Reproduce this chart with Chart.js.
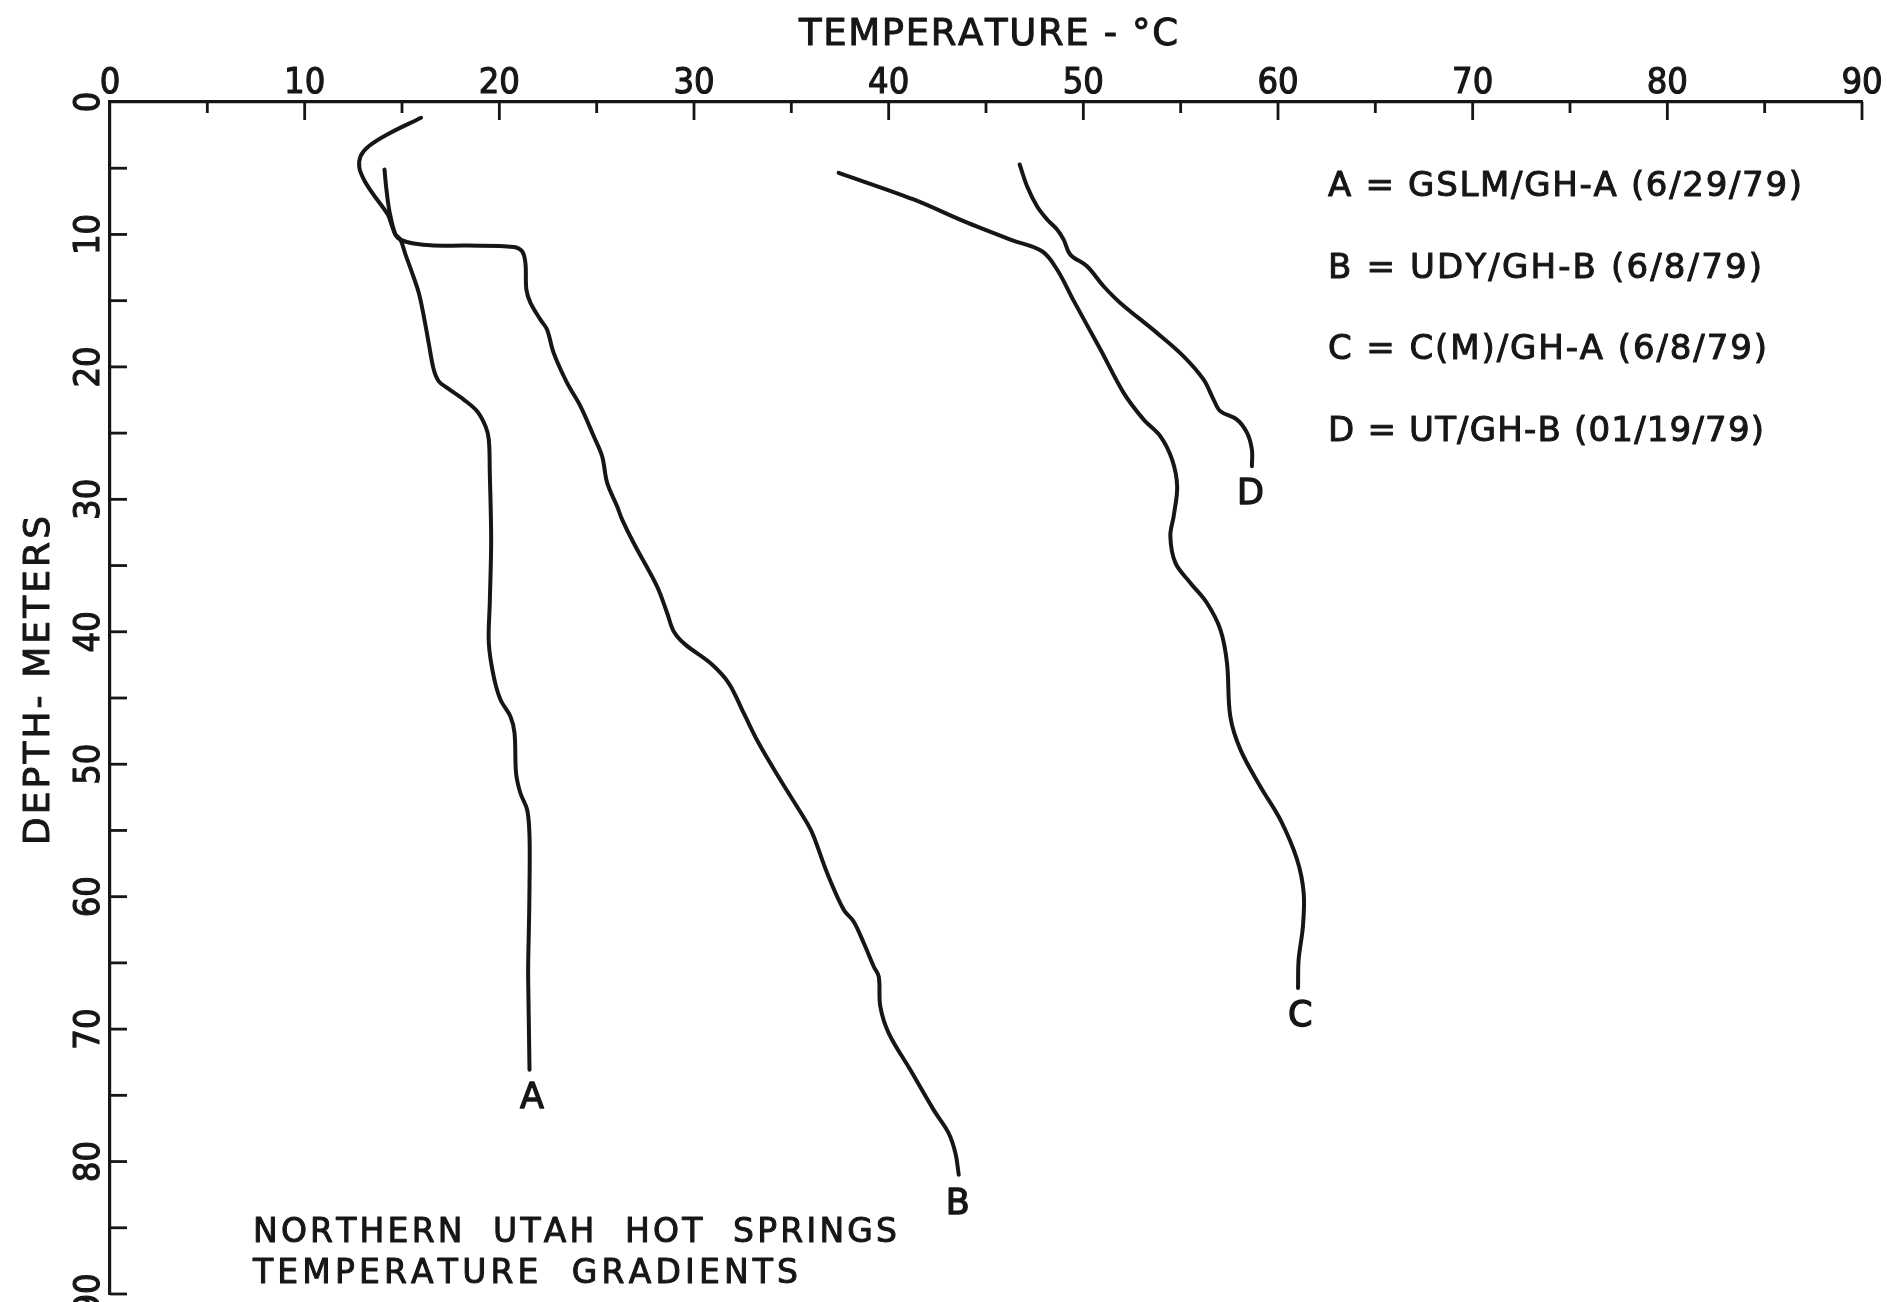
<!DOCTYPE html>
<html>
<head>
<meta charset="utf-8">
<script src="https://cdn.jsdelivr.net/npm/chart.js@4.4.1/dist/chart.umd.min.js"></script>
<style>
html,body{margin:0;padding:0;background:#ffffff;overflow:hidden}
#wrap{width:1887px;height:1302px;position:relative;background:#ffffff}
</style>
</head>
<body>
<div id="wrap"><canvas id="c"></canvas></div>
<script>
// ---- tick labels ----
const tempTicks  = [0, 10, 20, 30, 40, 50, 60, 70, 80, 90];
const depthTicks = [0, 10, 20, 30, 40, 50, 60, 70, 80, 90];

// ---- series names ----
const seriesKeys  = ['A', 'B', 'C', 'D'];
const seriesNames = [
  'A = GSLM/GH-A (6/29/79)',
  'B = UDY/GH-B (6/8/79)',
  'C = C(M)/GH-A (6/8/79)',
  'D = UT/GH-B (01/19/79)'
];

// ---- series values: temperature (deg C) and depth (m) ----
const tempA  = [15.98, 14.24, 13.29, 12.87, 12.81, 13.04, 13.47, 14.27, 14.49, 14.66, 14.92, 15.18, 15.52, 15.86, 16.12, 16.37, 16.63, 16.89, 17.32, 18.17, 18.86, 19.29, 19.46, 19.51, 19.58, 19.51, 19.46, 19.71, 20.06, 20.57, 20.78, 20.86, 21.08, 21.43, 21.55, 21.55, 21.52, 21.48, 21.50, 21.55];
const depthA = [1.19, 2.45, 3.34, 4.09, 4.97, 5.85, 6.86, 8.50, 9.38, 10.00, 10.39, 11.52, 12.90, 14.41, 16.18, 18.19, 20.20, 21.09, 21.59, 22.47, 23.35, 24.49, 25.49, 28.00, 33.04, 37.80, 40.85, 43.37, 45.13, 46.40, 47.64, 50.67, 52.17, 53.44, 55.45, 59.23, 62.25, 65.50, 68.00, 73.07];

const tempB  = [14.10, 14.20, 14.37, 14.66, 14.92, 15.60, 16.63, 18.35, 20.74, 21.17, 21.34, 21.39, 21.60, 22.11, 22.45, 22.79, 23.48, 24.17, 24.85, 25.28, 25.54, 26.05, 26.31, 26.90, 28.10, 28.62, 28.96, 29.56, 30.84, 31.78, 32.55, 33.32, 34.44, 35.81, 36.15, 36.84, 37.69, 38.20, 38.72, 39.23, 39.49, 39.57, 40.00, 41.11, 42.31, 43.08, 43.43, 43.60];
const depthB = [5.10, 6.60, 8.37, 10.00, 10.39, 10.69, 10.84, 10.84, 10.94, 11.27, 12.15, 14.16, 15.17, 16.43, 17.18, 18.94, 21.21, 22.98, 25.24, 26.75, 28.76, 30.53, 31.53, 33.30, 36.57, 38.58, 39.97, 40.97, 42.36, 43.87, 46.13, 48.40, 51.19, 54.44, 55.45, 58.22, 60.99, 61.87, 63.50, 65.27, 66.03, 68.29, 70.30, 73.07, 76.10, 77.85, 79.37, 81.00];

const tempC  = [37.43, 41.28, 43.85, 46.25, 47.88, 48.65, 49.50, 50.88, 52.07, 53.10, 53.96, 54.56, 54.82, 54.65, 54.47, 54.73, 55.50, 56.35, 57.04, 57.38, 57.55, 58.07, 59.09, 60.12, 60.98, 61.32, 61.28, 61.06, 61.03];
const depthC = [5.35, 7.36, 9.00, 10.39, 11.27, 12.65, 15.00, 18.69, 21.96, 23.98, 25.24, 27.00, 29.02, 31.20, 32.79, 34.80, 36.31, 37.83, 39.84, 42.36, 46.39, 48.90, 51.68, 54.19, 57.21, 59.73, 62.25, 64.76, 66.90];

const tempD  = [46.73, 47.11, 47.62, 48.14, 48.65, 48.99, 49.33, 50.19, 51.04, 51.90, 53.78, 55.15, 56.18, 56.69, 57.04, 57.89, 58.41, 58.66, 58.66];
const depthD = [4.72, 6.36, 7.87, 8.87, 9.63, 10.39, 11.52, 12.40, 13.91, 15.17, 17.43, 19.20, 20.96, 22.47, 23.35, 23.98, 24.99, 26.25, 27.50];

// ---- styling / layout (kept apart from the data) ----
const INK  = '#161616';
const FONT = "'DejaVu Sans', 'Noto Sans', sans-serif";
const TICKFONT = "'Liberation Sans Narrow', 'DejaVu Sans Condensed', 'Liberation Sans', sans-serif";
const CAP  = 0.729; // cap-height ratio of DejaVu Sans

const toPoints = (t, d) => t.map((v, i) => ({ x: v, y: d[i] }));
const seriesData = [toPoints(tempA, depthA), toPoints(tempB, depthB), toPoints(tempC, depthC), toPoints(tempD, depthD)];

// label anchors in data units (temperature, depth)
const curveLabelAt = [ {t: 21.68, d: 74.96}, {t: 43.55, d: 83.0}, {t: 61.14, d: 68.8}, {t: 58.58, d: 29.4} ];

// free text on the sheet (pixel layout)
const sheetText = {
  xTitle: { text: 'TEMPERATURE - °C', size: 37, x0: 799, x1: 1178, cy: 32 },
  yTitle: { text: 'DEPTH- METERS', size: 36, cx: 36, y0: 845, y1: 516 },
  legend: { x0: 1328, size: 34, cy: [184, 265.5, 347, 428.5], x1: [1802, 1762, 1767, 1764] },
  note:   [ { text: 'NORTHERN  UTAH  HOT  SPRINGS', size: 33, x0: 253, x1: 897, cy: 1230 },
            { text: 'TEMPERATURE  GRADIENTS',       size: 33, x0: 253, x1: 798, cy: 1271 } ],
  letterSize: 35
};

function spacedText(ctx, text, x0, x1, cy, size) {
  ctx.font = size + 'px ' + FONT;
  ctx.textAlign = 'left';
  ctx.textBaseline = 'alphabetic';
  const chars = Array.from(text);
  const w = chars.map(c => ctx.measureText(c).width);
  const natural = w.reduce((a, b) => a + b, 0);
  const gap = chars.length > 1 ? ((x1 - x0) - natural) / (chars.length - 1) : 0;
  const base = cy + CAP * size / 2;
  let x = x0;
  chars.forEach((c, i) => {
    if (c !== ' ') { ctx.fillText(c, x, base); ctx.strokeText(c, x, base); }
    x += w[i] + gap;
  });
}

const sheetPlugin = {
  id: 'sheet',
  afterDraw(chart) {
    const ctx = chart.ctx, xs = chart.scales.x, ys = chart.scales.y, a = chart.chartArea;
    ctx.save();
    ctx.strokeStyle = INK; ctx.fillStyle = INK;
    // inward tick marks every 5 units
    ctx.lineWidth = 2.8; ctx.lineCap = 'butt';
    for (let v = 5; v <= 90; v += 5) {
      const px = xs.getPixelForValue(v);
      const len = (v % 10 === 0) ? 18 : 11;
      ctx.beginPath(); ctx.moveTo(px, a.top); ctx.lineTo(px, a.top + len); ctx.stroke();
      const py = ys.getPixelForValue(v);
      ctx.beginPath(); ctx.moveTo(a.left, py); ctx.lineTo(a.left + 17, py); ctx.stroke();
    }
    // text: filled plus a thin outline to match the lettering weight
    ctx.lineWidth = 1.0; ctx.lineJoin = 'round';
    const xt = sheetText.xTitle;
    spacedText(ctx, xt.text, xt.x0, xt.x1, xt.cy, xt.size);
    const yt = sheetText.yTitle;
    ctx.save();
    ctx.translate(yt.cx, yt.y0);
    ctx.rotate(-Math.PI / 2);
    spacedText(ctx, yt.text, 0, yt.y0 - yt.y1, 0, yt.size);
    ctx.restore();
    const lg = sheetText.legend;
    seriesNames.forEach((s, i) => spacedText(ctx, s, lg.x0, lg.x1[i], lg.cy[i], lg.size));
    sheetText.note.forEach(n => spacedText(ctx, n.text, n.x0, n.x1, n.cy, n.size));
    // curve letters
    const ls = sheetText.letterSize;
    ctx.font = ls + 'px ' + FONT;
    ctx.textAlign = 'center'; ctx.textBaseline = 'alphabetic';
    ctx.lineWidth = 1.4;
    seriesKeys.forEach((k, i) => {
      const p = curveLabelAt[i];
      const x = xs.getPixelForValue(p.t), y = ys.getPixelForValue(p.d) + CAP * ls / 2;
      ctx.fillText(k, x, y); ctx.strokeText(k, x, y);
    });
    ctx.restore();
  }
};

new Chart(document.getElementById('c'), {
  type: 'scatter',
  data: {
    datasets: seriesData.map((d, i) => ({
      label: seriesNames[i],
      data: d,
      showLine: true,
      borderColor: INK,
      backgroundColor: INK,
      borderWidth: 4,
      pointRadius: 0,
      pointHoverRadius: 0,
      tension: 0.35,
      fill: false,
      borderCapStyle: 'round',
      borderJoinStyle: 'round'
    }))
  },
  options: {
    responsive: true,
    maintainAspectRatio: false,
    animation: false,
    events: [],
    layout: { padding: { left: 0, top: 0, right: 25, bottom: 8 } },
    plugins: { legend: { display: false }, tooltip: { enabled: false }, title: { display: false } },
    scales: {
      x: {
        type: 'linear', position: 'top', min: 0, max: 90,
        afterBuildTicks: s => { s.ticks = tempTicks.map(v => ({ value: v })); },
        ticks: { autoSkip: false, maxRotation: 0, minRotation: 0, padding: 2, color: INK,
                 textStrokeColor: INK, textStrokeWidth: 1.1,
                 font: { family: TICKFONT, size: 36, lineHeight: 0.9 }, callback: v => String(v) },
        grid: { display: false, drawTicks: false },
        border: { display: true, color: INK, width: 3.2 },
        title: { display: false },
        afterFit: s => { s.height = 102; s.paddingLeft = 0; s.paddingRight = 0; }
      },
      y: {
        type: 'linear', position: 'left', min: 0, max: 90, reverse: true,
        afterBuildTicks: s => { s.ticks = depthTicks.map(v => ({ value: v })); },
        ticks: { autoSkip: false, minRotation: 90, maxRotation: 90, crossAlign: 'center', padding: 0, color: INK,
                 textStrokeColor: INK, textStrokeWidth: 1.1,
                 font: { family: TICKFONT, size: 36, lineHeight: 0.9 }, callback: v => String(v) },
        grid: { display: false, drawTicks: false },
        border: { display: true, color: INK, width: 3.2 },
        title: { display: false },
        afterFit: s => { s.width = 110; s.paddingTop = 0; s.paddingBottom = 0; }
      }
    }
  },
  plugins: [sheetPlugin]
});
</script>
</body>
</html>
